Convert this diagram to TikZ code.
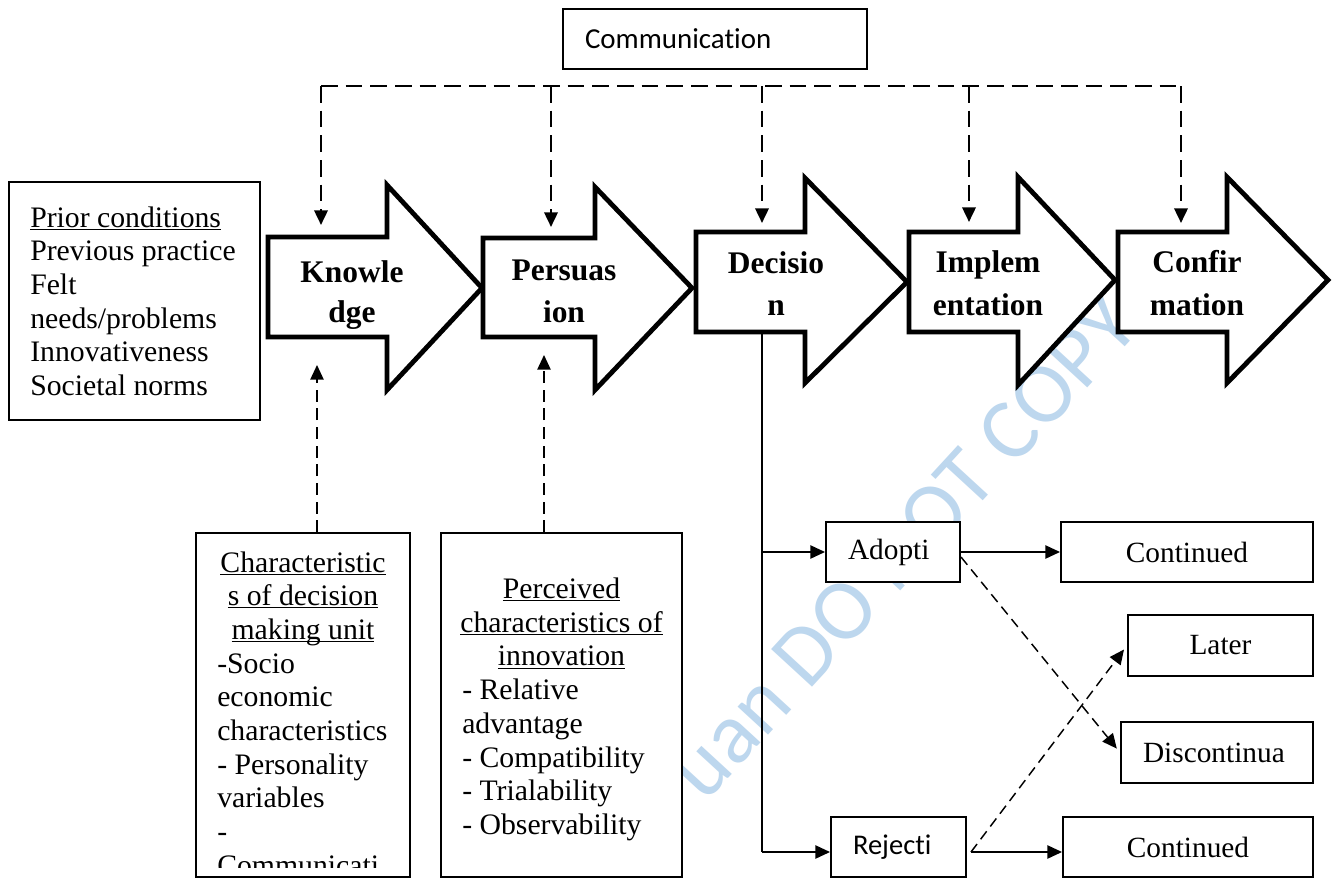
\documentclass[tikz,border=0pt]{standalone}
\usepackage{fontspec}
\setmainfont{Liberation Serif}
\newfontfamily\calibfont[Ligatures=NoCommon]{Carlito}
\usetikzlibrary{arrows.meta,calc}
\definecolor{wmblue}{RGB}{189,215,238}
% underline at a fixed distance below the baseline
\newcommand\undl[1]{\underline{\smash{#1}}}

\begin{document}
\begin{tikzpicture}[x=0.75pt,y=-0.75pt,
  stage/.style={draw=black,fill=white,line width=3.6pt,line join=miter,miter limit=10},
  stagetxt/.style={anchor=base,inner sep=0pt,font=\fontsize{23.6pt}{28pt}\selectfont\bfseries},
  bodytxt/.style={inner sep=0pt,font=\fontsize{22.3pt}{26pt}\selectfont},
  infobox/.style={draw=black,fill=white,line width=1.2pt,inner sep=0pt},
  outbox/.style={draw=black,fill=white,line width=1.5pt,inner sep=0pt,minimum height=45pt,
    font=\fontsize{22pt}{26pt}\selectfont},
  leftbox/.style={outbox,inner xsep=16.5pt,align=left,text width=#1},
  commbox/.style={draw=black,fill=white,line width=1.5pt,inner ysep=0pt,inner xsep=16.5pt,
    text width=195pt,align=left,minimum height=45pt,font=\calibfont\fontsize{21.7pt}{26pt}\selectfont},
  busline/.style={line width=1.9pt,dash pattern=on 12.5pt off 6pt},
  busarrow/.style={busline,-{Triangle[length=11pt,width=10pt]}},
  feedarrow/.style={line width=1.1pt,dash pattern=on 9pt off 5pt,-{Triangle[length=11pt,width=10pt]}},
  flow/.style={line width=1.1pt,-{Triangle[length=11pt,width=10pt]}},
  switcharrow/.style={line width=1.1pt,dash pattern=on 7.5pt off 4.5pt,-{Triangle[length=11pt,width=10pt]}},
  watermark/.style={text=wmblue,font=\calibfont\fontsize{65pt}{70pt}\selectfont,inner sep=0pt,rotate=47.4}
]
\useasboundingbox (0,0) rectangle (1336,878);
\fill[white] (0,0) rectangle (1336,878);

% watermark, lying under every filled shape
\node[watermark] (wm) at (903,547) {uan DO NOT COPY};

% communication channel
\node[commbox] (comm) at (715,39) {Communication};

% prior conditions
\node[infobox,minimum width=188.25pt,minimum height=178.5pt] (prior) at (134.5,301) {};
\foreach \line [count=\i from 0] in {\undl{Prior conditions},Previous practice,Felt,needs/problems,Innovativeness,Societal norms}
  \node[bodytxt,anchor=base west] (prior-\i) at (30,{227+33.7*\i}) {\line};

% the five stages
\path[stage] (268,237) -- (387,237) -- (387,185) -- (482,288) -- (387,390) -- (387,337) -- (268,337) -- cycle;
\path[stage] (483,238) -- (595,238) -- (595,187) -- (692,288) -- (595,390) -- (595,337) -- (483,337) -- cycle;
\path[stage] (696,232) -- (805,232) -- (805,178) -- (907,282) -- (805,383) -- (805,332) -- (696,332) -- cycle;
\path[stage] (909,232) -- (1018,232) -- (1018,177) -- (1115,280) -- (1018,385) -- (1018,332) -- (909,332) -- cycle;
\path[stage] (1118,232) -- (1227,232) -- (1227,177) -- (1328,280) -- (1227,383) -- (1227,332) -- (1118,332) -- cycle;

\node[stagetxt] (kn-1) at (352,282) {Knowle};
\node[stagetxt] (kn-2) at (352,322) {dge};
\node[stagetxt] (pe-1) at (564,280) {Persuas};
\node[stagetxt] (pe-2) at (564,322) {ion};
\node[stagetxt] (de-1) at (776,273) {Decisio};
\node[stagetxt] (de-2) at (776,315) {n};
\node[stagetxt] (im-1) at (988,272) {Implem};
\node[stagetxt] (im-2) at (988,315) {entation};
\node[stagetxt] (co-1) at (1197,272) {Confir};
\node[stagetxt] (co-2) at (1197,315) {mation};

% characteristics of the decision making unit
\node[infobox,minimum width=160.5pt,minimum height=258pt] (dmu) at (303,705) {};
\foreach \line [count=\i from 0] in {Characteristic,s of decision,making unit}
  \node[bodytxt,anchor=base] (dmu-h\i) at (303,{572+33.7*\i}) {\undl{\line}};
\foreach \line [count=\i from 3] in {-Socio,economic,characteristics,- Personality,variables,-}
  \node[bodytxt,anchor=base west] (dmu-\i) at (217,{572+33.7*\i}) {\line};
\begin{scope}
  \clip (196,533) rectangle (410,867);
  \node[bodytxt,anchor=base west] (dmu-9) at (217,{572+33.7*9}) {Communicati};
\end{scope}

% perceived characteristics of the innovation
\node[infobox,minimum width=180.75pt,minimum height=258pt] (pci) at (561.5,705) {};
\foreach \line [count=\i from 0] in {Perceived,characteristics of,innovation}
  \node[bodytxt,anchor=base] (pci-h\i) at (561.5,{598.5+33.7*\i}) {\undl{\line}};
\foreach \line [count=\i from 3] in {- Relative,advantage,- Compatibility,- Trialability,- Observability}
  \node[bodytxt,anchor=base west] (pci-\i) at (462,{598.5+33.7*\i}) {\line};

% outcomes of the decision
\node[leftbox=67.5pt] (adopt) at (893,552) {Adopti};
\node[outbox,minimum width=189pt] (cont1) at (1187,552) {Continued};
\node[outbox,minimum width=138.75pt,minimum height=45.75pt] (later) at (1220.5,645.5) {Later};
\node[leftbox=111pt,minimum height=45.75pt] (disc) at (1217,752.5) {Discontinua};
\node[leftbox=68.25pt,font=\calibfont\fontsize{21.4pt}{26pt}\selectfont] (reject) at (898.5,847) {Rejecti};
\node[outbox,minimum width=187.5pt] (cont2) at (1188,847) {Continued};

% communication bus feeding every stage
\foreach \n/\x/\y in {1/321/225,2/551/227,3/762/223,4/969/222,5/1181/223} {
  \coordinate (bus-\n) at (\x,86);
  \coordinate (in-\n) at (\x,\y);
}
\draw[busline] (bus-1) -- (bus-5);
\foreach \n in {1,...,5}
  \draw[busarrow] (bus-\n) -- (in-\n);

% influences from below
\coordinate (kn-under) at (317,365);
\coordinate (pe-under) at (544,355);
\draw[feedarrow] (kn-under |- dmu.north) -- (kn-under);
\draw[feedarrow] (pe-under |- pci.north) -- (pe-under);

% decision branches
\coordinate (dec-foot) at (762,332);
\coordinate (adopt-in) at (762,552);
\coordinate (rej-in) at (762,852);
\draw[line width=1.1pt] (dec-foot) -- (rej-in);
\draw[flow] (adopt-in) -- (adopt.west);
\draw[flow] (rej-in) -- (rej-in -| reject.west);
\draw[flow] (adopt.east) -- (cont1.west);
\coordinate (rej-out) at ($(reject.east |- rej-in)+(4,0)$);
\draw[flow] (rej-out) -- (cont2.west |- rej-in);
\draw[switcharrow,shorten >=3.75pt] ($(adopt.east)+(0,5)$) -- (disc.west);
\draw[switcharrow,shorten >=3.75pt] (rej-out) -- (later.west);
\end{tikzpicture}
\end{document}
